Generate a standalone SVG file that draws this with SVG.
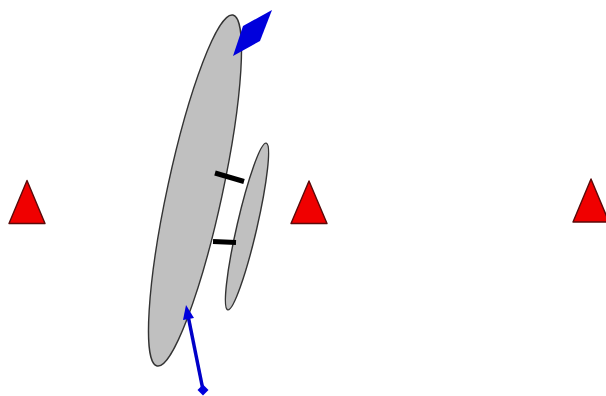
<svg xmlns="http://www.w3.org/2000/svg" width="606" height="396" viewBox="0 0 606 396">
<style>
.lens{fill:#c0c0c0;stroke:#333;stroke-width:1.4}
.tri{fill:#f00000;stroke:#5a0a0a;stroke-width:1.4;stroke-linejoin:round}
.bar{stroke:#000;stroke-width:5;fill:none}
.blue{fill:#0000dc;stroke:none}
</style>
<rect width="606" height="396" fill="#fff"/>
<g id="lens-large"><ellipse class="lens" cx="195" cy="190.500" rx="27.500" ry="179.500" transform="rotate(12.200 195 190.500)"/></g>
<g id="lens-small"><ellipse class="lens" cx="247" cy="226.500" rx="10" ry="85.500" transform="rotate(13 247 226.500)"/></g>
<g id="connectors">
<line class="bar" x1="215" y1="173" x2="244" y2="181.500"/>
<line class="bar" x1="213" y1="241.500" x2="236" y2="242.500"/>
</g>
<g id="object-left"><polygon class="tri" points="27,180.500 45,223.500 9,223.500"/></g>
<g id="object-middle"><polygon class="tri" points="309,181 327,223.500 291,223.500"/></g>
<g id="object-right"><polygon class="tri" points="591,179 609,222 573,222"/></g>
<g id="ray-top"><polygon class="blue" points="272,10 243,26 233,56 260,41"/></g>
<g id="ray-bottom">
<line x1="203" y1="390" x2="188.500" y2="318" stroke="#0000c8" stroke-width="3.500"/>
<polygon class="blue" points="186,305 194,318 183,320"/>
<polygon class="blue" points="203,384.500 208.500,390 203,395.500 197.500,390"/>
</g>
</svg>
